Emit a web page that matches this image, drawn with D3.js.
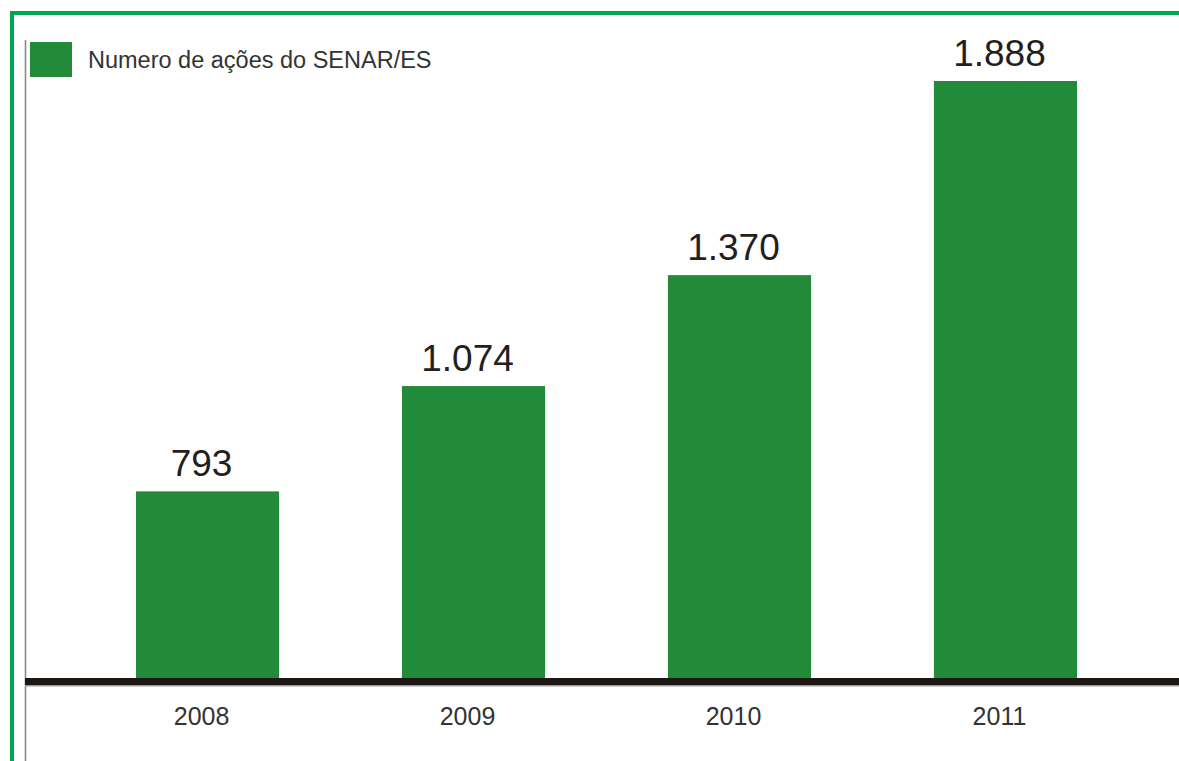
<!DOCTYPE html>
<html>
<head>
<meta charset="utf-8">
<script src="https://cdn.jsdelivr.net/npm/d3@7"></script>
<style>
  html, body { margin: 0; padding: 0; background: #ffffff; }
  svg { display: block; }
  text { font-family: "Liberation Sans", Arial, sans-serif; }
</style>
</head>
<body>
<svg id="chart" width="1179" height="761"></svg>
<script>
// ---- data ----
const years = ["2008", "2009", "2010", "2011"];
const acoes = [793, 1074, 1370, 1888];
const valueLabels = ["793", "1.074", "1.370", "1.888"];
const seriesName = "Numero de ações do SENAR/ES";

// ---- layout ----
const W = 1179, H = 761;
const baseY = 678;
const svg = d3.select("#chart");

const green = "#228b3a";
const frameGreen = "#00a651";

// frame lines (green)
svg.append("rect").attr("x", 10).attr("y", 11).attr("width", W - 10).attr("height", 4).attr("fill", frameGreen);
svg.append("rect").attr("x", 10).attr("y", 11).attr("width", 4).attr("height", H - 11).attr("fill", frameGreen);

// gray vertical axis line
svg.append("line").attr("x1", 25.5).attr("x2", 25.5).attr("y1", 40).attr("y2", H)
  .attr("stroke", "#8a8a8a").attr("stroke-width", 1.6);

// scales
const x = d3.scaleBand()
  .domain(years)
  .range([136, 1077])
  .paddingInner(0.462)
  .paddingOuter(0);

const y = d3.scaleLinear()
  .domain([295, 1888])
  .range([baseY, 81]);

// bars
svg.append("g").selectAll("rect")
  .data(years)
  .join("rect")
  .attr("x", d => x(d))
  .attr("width", x.bandwidth())
  .attr("y", (d, i) => y(acoes[i]))
  .attr("height", (d, i) => baseY - y(acoes[i]))
  .attr("fill", green);

// value labels
svg.append("g").selectAll("text")
  .data(years)
  .join("text")
  .attr("x", d => x(d) + x.bandwidth() / 2 - 6)
  .attr("y", (d, i) => y(acoes[i]) - 15)
  .attr("text-anchor", "middle")
  .attr("font-size", 37)
  .attr("fill", "#231f20")
  .text((d, i) => valueLabels[i]);

// baseline (thick black)
svg.append("rect").attr("x", 25).attr("y", baseY).attr("width", W - 25).attr("height", 7).attr("fill", "#1c1714");
svg.append("rect").attr("x", 25).attr("y", baseY + 7).attr("width", W - 25).attr("height", 1.5).attr("fill", "#9a9a9a");

// x axis labels
const xAxis = d3.axisBottom(x).tickSize(0).tickPadding(0);
const gx = svg.append("g").attr("transform", `translate(-6, ${baseY + 29})`).call(xAxis);
gx.select(".domain").remove();
gx.selectAll("text")
  .attr("font-size", 25)
  .attr("fill", "#333333")
  .attr("dy", "0.71em")
  .style("font-family", "'Liberation Sans', Arial, sans-serif");

// legend
const legend = svg.append("g");
legend.append("rect").attr("x", 30).attr("y", 42).attr("width", 42).attr("height", 35).attr("fill", green);
legend.append("text").attr("x", 88).attr("y", 68)
  .attr("font-size", 23.5)
  .attr("fill", "#333333")
  .text(seriesName);
</script>
</body>
</html>
